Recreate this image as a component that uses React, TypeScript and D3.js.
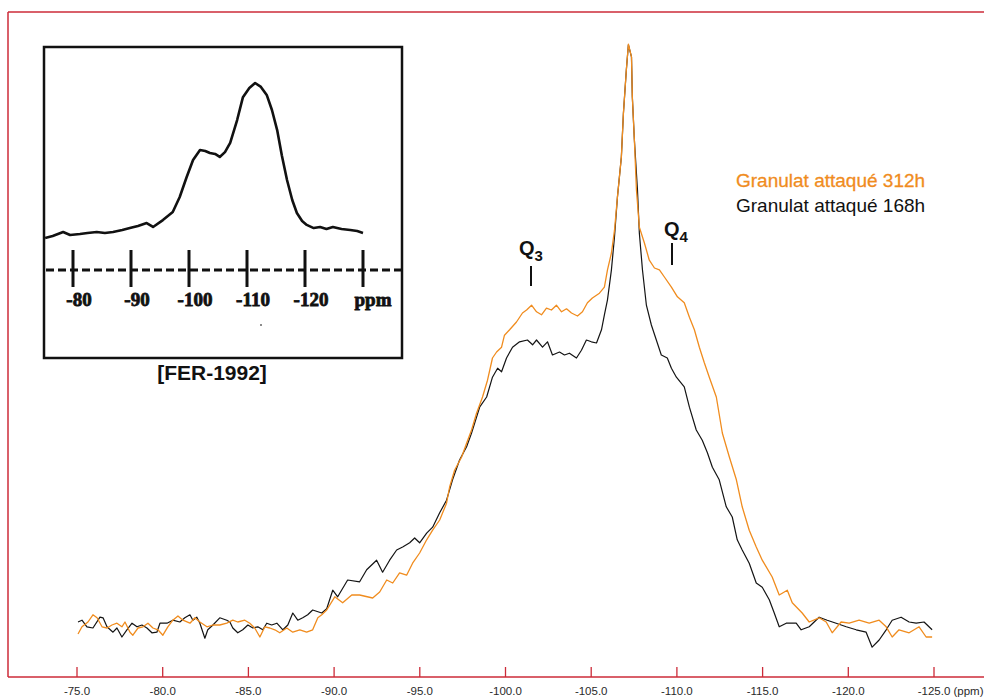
import React from "react";
import * as d3 from "d3";

// ---- Data ----
// Main spectrum x-axis ticks (ppm)
const axisTicks: number[] = [-75, -80, -85, -90, -95, -100, -105, -110, -115, -120, -125];

// Granulat attaqué 168h (black) : [ppm, intensity]
const series168: [number, number][] = [
  [-75.06, 3.0], [-75.29, 3.3], [-75.58, 2.2], [-75.93, 2.0], [-76.34, 3.8], [-76.52, 3.7],
  [-76.75, 2.2], [-77.10, 1.3], [-77.33, 2.0], [-77.62, 0.5], [-77.91, 1.7], [-78.21, 2.8],
  [-78.50, 2.2], [-78.79, 2.5], [-79.08, 2.0], [-79.37, 1.2], [-79.66, 1.3], [-79.84, 2.8],
  [-80.25, 2.8], [-80.59, 3.3], [-81.00, 3.0], [-81.29, 3.7], [-81.59, 4.2], [-81.76, 3.3],
  [-81.99, 3.8], [-82.17, 2.8], [-82.46, 0.3], [-82.63, 1.7], [-82.93, 2.5], [-83.33, 3.7],
  [-83.74, 3.3], [-83.92, 3.0], [-84.09, 2.0], [-84.38, 1.2], [-84.67, 1.7], [-84.97, 2.5],
  [-85.26, 2.0], [-85.55, 2.2], [-85.84, 1.7], [-86.07, 2.8], [-86.36, 2.5], [-86.66, 2.8],
  [-87.01, 1.7], [-87.30, 2.5], [-87.59, 4.5], [-87.88, 3.3], [-88.17, 3.7], [-88.46, 4.2],
  [-88.75, 5.0], [-89.28, 4.5], [-89.57, 5.2], [-89.92, 8.3], [-90.21, 7.2], [-90.79, 10.0],
  [-91.49, 9.7], [-91.90, 11.7], [-92.48, 13.3], [-92.83, 11.3], [-93.24, 13.3], [-93.65, 15.0],
  [-94.00, 15.5], [-94.41, 16.2], [-94.70, 17.0], [-94.99, 16.2], [-95.40, 17.8], [-95.75, 18.8],
  [-96.16, 21.2], [-96.56, 23.3], [-96.91, 26.7], [-97.32, 30.0], [-97.73, 32.2], [-98.02, 34.5],
  [-98.49, 38.8], [-98.90, 40.5], [-99.24, 43.8], [-99.54, 45.3], [-99.77, 44.7], [-100.06, 47.0],
  [-100.41, 48.8], [-100.82, 49.7], [-101.28, 50.0], [-101.58, 49.2], [-101.81, 50.0], [-102.16, 48.8],
  [-102.45, 49.7], [-102.74, 47.5], [-103.15, 48.0], [-103.44, 47.5], [-103.73, 47.8], [-104.14, 47.0],
  [-104.43, 48.3], [-104.72, 50.0], [-105.01, 49.7], [-105.31, 49.5], [-105.60, 51.7], [-105.77, 54.2],
  [-105.95, 56.7], [-106.18, 61.7], [-106.36, 67.2], [-106.53, 73.8], [-106.76, 80.5], [-106.88, 87.8],
  [-107.05, 95.0], [-107.17, 99.2], [-107.35, 97.2], [-107.40, 90.5], [-107.52, 83.3], [-107.70, 75.0],
  [-107.81, 67.8], [-107.99, 61.7], [-108.22, 55.8], [-108.51, 52.5], [-108.80, 50.0], [-109.09, 47.5],
  [-109.44, 47.0], [-109.68, 45.3], [-109.97, 43.8], [-110.43, 42.2], [-110.73, 38.8], [-111.13, 35.0],
  [-111.48, 33.3], [-111.78, 31.2], [-112.07, 28.8], [-112.47, 26.7], [-112.88, 22.2], [-113.23, 20.5],
  [-113.52, 16.7], [-113.81, 15.0], [-114.22, 12.8], [-114.63, 9.5], [-114.98, 8.8], [-115.39, 6.7],
  [-115.68, 4.5], [-115.97, 2.2], [-116.38, 2.8], [-116.96, 2.8], [-117.25, 1.7], [-117.72, 2.2],
  [-118.30, 3.8], [-118.77, 3.3], [-119.29, 2.8], [-119.88, 2.2], [-120.46, 1.7], [-121.04, 1.3],
  [-121.39, -1.2], [-121.80, 0.0], [-122.21, 1.7], [-122.56, 3.3], [-123.08, 3.8], [-123.55, 3.0],
  [-123.96, 2.8], [-124.42, 3.0], [-124.89, 1.7],
];

// Granulat attaqué 312h (orange) : [ppm, intensity]
const series312: [number, number][] = [
  [-75.06, 1.0], [-75.29, 2.2], [-75.64, 3.0], [-75.93, 4.2], [-76.17, 3.7], [-76.46, 2.2],
  [-76.75, 2.0], [-77.04, 2.5], [-77.33, 2.8], [-77.62, 2.2], [-77.80, 3.0], [-78.09, 1.3],
  [-78.26, 0.8], [-78.56, 2.0], [-78.85, 2.2], [-79.14, 2.8], [-79.43, 2.0], [-79.72, 1.7],
  [-80.01, 0.8], [-80.30, 2.2], [-80.59, 3.3], [-80.89, 4.0], [-81.18, 3.3], [-81.59, 2.8],
  [-81.88, 3.7], [-82.17, 3.0], [-82.58, 2.2], [-82.93, 2.5], [-83.33, 2.5], [-83.74, 2.8],
  [-84.09, 3.3], [-84.38, 3.0], [-84.79, 3.3], [-85.08, 2.8], [-85.37, 2.0], [-85.67, 0.5],
  [-85.96, 2.2], [-86.25, 2.0], [-86.54, 1.7], [-86.83, 1.2], [-87.24, 2.0], [-87.59, 1.3],
  [-88.00, 1.7], [-88.40, 1.3], [-88.75, 1.7], [-89.05, 3.7], [-89.28, 4.2], [-89.57, 5.0],
  [-90.04, 7.2], [-90.50, 6.2], [-91.03, 7.5], [-91.49, 7.5], [-92.25, 7.0], [-92.66, 8.0],
  [-93.07, 10.0], [-93.42, 9.5], [-93.82, 11.2], [-94.23, 10.8], [-94.58, 12.8], [-94.99, 14.5],
  [-95.40, 16.7], [-95.75, 18.3], [-96.16, 20.0], [-96.56, 22.8], [-96.74, 25.5], [-97.03, 28.3],
  [-97.44, 30.5], [-97.73, 32.8], [-98.02, 35.0], [-98.31, 37.8], [-98.66, 40.5], [-98.95, 43.3],
  [-99.24, 47.0], [-99.48, 48.0], [-99.77, 48.8], [-99.94, 50.8], [-100.24, 51.7], [-100.64, 53.0],
  [-100.99, 54.5], [-101.23, 55.0], [-101.52, 55.8], [-101.81, 54.7], [-102.10, 54.2], [-102.39, 55.3],
  [-102.68, 55.0], [-102.97, 55.8], [-103.27, 54.7], [-103.56, 55.2], [-103.85, 54.5], [-104.20, 54.0],
  [-104.49, 54.7], [-104.78, 56.2], [-105.07, 57.0], [-105.48, 57.8], [-105.77, 58.8], [-105.95, 61.7],
  [-106.18, 64.5], [-106.36, 68.3], [-106.53, 73.8], [-106.76, 80.5], [-106.88, 87.8], [-107.05, 95.0],
  [-107.17, 99.3], [-107.35, 97.2], [-107.40, 90.5], [-107.52, 83.3], [-107.64, 75.0], [-107.81, 68.8],
  [-108.10, 66.2], [-108.39, 63.3], [-108.69, 62.0], [-108.98, 61.7], [-109.27, 60.5], [-109.68, 58.8],
  [-110.03, 57.2], [-110.43, 56.2], [-110.73, 53.8], [-111.02, 51.7], [-111.31, 48.8], [-111.60, 46.2],
  [-111.89, 43.8], [-112.30, 40.5], [-112.65, 34.5], [-113.06, 30.5], [-113.47, 26.7], [-113.81, 22.2],
  [-114.22, 18.3], [-114.63, 15.5], [-114.98, 13.3], [-115.56, 10.5], [-115.97, 7.5], [-116.44, 8.3],
  [-116.73, 6.2], [-117.31, 4.5], [-117.72, 3.0], [-118.30, 3.7], [-118.71, 3.0], [-119.06, 1.2],
  [-119.58, 3.0], [-120.05, 2.8], [-120.63, 3.3], [-121.22, 2.8], [-121.80, 3.3], [-122.21, 2.2],
  [-122.56, 0.5], [-122.96, 1.7], [-123.55, 1.2], [-124.13, 2.2], [-124.54, 0.5], [-124.89, 0.5],
];

// Inset [FER-1992] spectrum : [ppm, intensity]
const insetSpectrum: [number, number][] = [
  [-75.2, 1.3], [-76.5, 2.5], [-78.3, 5.1], [-79.5, 3.2], [-81.2, 3.8], [-82.5, 4.5],
  [-84.1, 5.1], [-85.5, 4.5], [-86.9, 5.1], [-88.5, 6.4], [-89.8, 7.6], [-91.2, 8.9],
  [-92.7, 10.8], [-93.8, 8.3], [-95.5, 12.7], [-97.2, 17.8], [-98.4, 27.4], [-99.6, 40.1],
  [-100.7, 51.0], [-101.9, 57.3], [-102.8, 56.7], [-103.6, 55.4], [-104.5, 54.8], [-105.3, 52.9],
  [-106.2, 56.0], [-107.1, 61.8], [-108.3, 76.4], [-109.3, 91.0], [-110.4, 96.8], [-111.4, 100.0],
  [-112.4, 97.5], [-113.4, 92.4], [-114.3, 82.8], [-115.2, 70.0], [-116.0, 54.0], [-116.9, 38.2],
  [-117.8, 25.5], [-118.6, 17.2], [-119.5, 12.1], [-120.3, 9.6], [-121.5, 7.6], [-122.6, 8.3],
  [-123.7, 7.0], [-124.8, 8.3], [-126.3, 7.0], [-127.8, 6.4], [-129.0, 5.7], [-130.0, 4.5],
];
const insetTicks: number[] = [-80, -90, -100, -110, -120, -130];
const insetTickLabels: string[] = ["-80", "-90", "-100", "-110", "-120", "ppm"];

const legendLabels: string[] = ["Granulat attaqué 312h", "Granulat attaqué 168h"];

// ---- Styles ----
const RED = "#cc2b38";
const ORANGE = "#f08c1e";
const BLACK = "#141414";

export default function App() {
  const W = 984;
  const H = 698;

  const x = d3.scaleLinear().domain([-75, -125]).range([77, 934]);
  const y = d3.scaleLinear().domain([0, 100]).range([640, 40]);

  const ix = d3.scaleLinear().domain([-80, -130]).range([73, 363]);
  const iy = d3.scaleLinear().domain([0, 100]).range([240, 83]);

  const line = d3
    .line<[number, number]>()
    .x((d) => x(d[0]))
    .y((d) => y(d[1]))
    .curve(d3.curveLinear);

  const insetLine = d3
    .line<[number, number]>()
    .x((d) => ix(d[0]))
    .y((d) => iy(d[1]))
    .curve(d3.curveLinear);

  const axisY = 677;
  const sans = "'Liberation Sans', Arial, sans-serif";
  const tickFont = 11.5;

  return (
    <svg
      width={W}
      height={H}
      viewBox={`0 0 ${W} ${H}`}
      style={{ position: "absolute", left: 0, top: 0, background: "#fff" }}
    >
      <rect x={0} y={0} width={W} height={H} fill="#fff" />

      {/* Frame */}
      <line x1={8} x2={W} y1={12} y2={12} stroke={RED} strokeWidth={1.5} />
      <line x1={8} x2={8} y1={12} y2={axisY} stroke={RED} strokeWidth={1.5} />
      <line x1={8} x2={W} y1={axisY} y2={axisY} stroke={RED} strokeWidth={1.5} />

      {/* Axis ticks and labels */}
      {axisTicks.map((t) => (
        <g key={t}>
          <line x1={x(t)} x2={x(t)} y1={axisY - 10} y2={axisY} stroke={RED} strokeWidth={1.3} />
          <text
            x={x(t)}
            y={695}
            textAnchor="middle"
            fontFamily={sans}
            fontSize={tickFont}
            fill="#2a2a2a"
          >
            {t.toFixed(1)}
          </text>
        </g>
      ))}
      <text x={x(-125) + 19.5} y={695} fontFamily={sans} fontSize={tickFont} fill="#2a2a2a">
        (ppm)
      </text>

      {/* Spectra */}
      <path d={line(series168) || ""} fill="none" stroke={BLACK} strokeWidth={1.2} strokeLinejoin="round" />
      <path d={line(series312) || ""} fill="none" stroke={ORANGE} strokeWidth={1.3} strokeLinejoin="round" />

      {/* Q3 / Q4 annotations */}
      <text x={519} y={255} fontFamily={sans} fontWeight="bold" fontSize={20} fill="#111">
        Q<tspan fontSize={15} dy={6}>3</tspan>
      </text>
      <line x1={531} x2={531} y1={266} y2={286} stroke="#111" strokeWidth={2} />
      <text x={664} y={236} fontFamily={sans} fontWeight="bold" fontSize={20} fill="#111">
        Q<tspan fontSize={15} dy={6}>4</tspan>
      </text>
      <line x1={672} x2={672} y1={243} y2={265} stroke="#111" strokeWidth={2} />

      {/* Legend */}
      <text x={736} y={187} fontFamily={sans} fontSize={19} fill={ORANGE} stroke={ORANGE} strokeWidth={0.3}>
        {legendLabels[0]}
      </text>
      <text x={736} y={212} fontFamily={sans} fontSize={19} fill="#111">
        {legendLabels[1]}
      </text>

      {/* Inset */}
      <rect x={44} y={47} width={358} height={311} fill="#fff" stroke="#111" strokeWidth={2.5} />
      <path d={insetLine(insetSpectrum) || ""} fill="none" stroke="#111" strokeWidth={2.6} strokeLinejoin="round" />
      <line
        x1={46}
        x2={401}
        y1={270}
        y2={270}
        stroke="#111"
        strokeWidth={3}
        strokeDasharray="8 4"
      />
      {insetTicks.map((t, i) => (
        <g key={t}>
          <line x1={ix(t)} x2={ix(t)} y1={250} y2={287} stroke="#111" strokeWidth={3} />
          <text
            x={ix(t) + (i === 5 ? 10 : 6)}
            y={306}
            textAnchor="middle"
            fontFamily="'Liberation Serif', 'Times New Roman', serif"
            fontWeight="bold"
            fontSize={19}
            fill="#111"
            stroke="#111"
            strokeWidth={0.8}
          >
            {insetTickLabels[i]}
          </text>
        </g>
      ))}
      <circle cx={261} cy={325} r={1} fill="#666" />
      <text x={212} y={380} textAnchor="middle" fontFamily={sans} fontWeight="bold" fontSize={21} fill="#111">
        [FER-1992]
      </text>
    </svg>
  );
}
